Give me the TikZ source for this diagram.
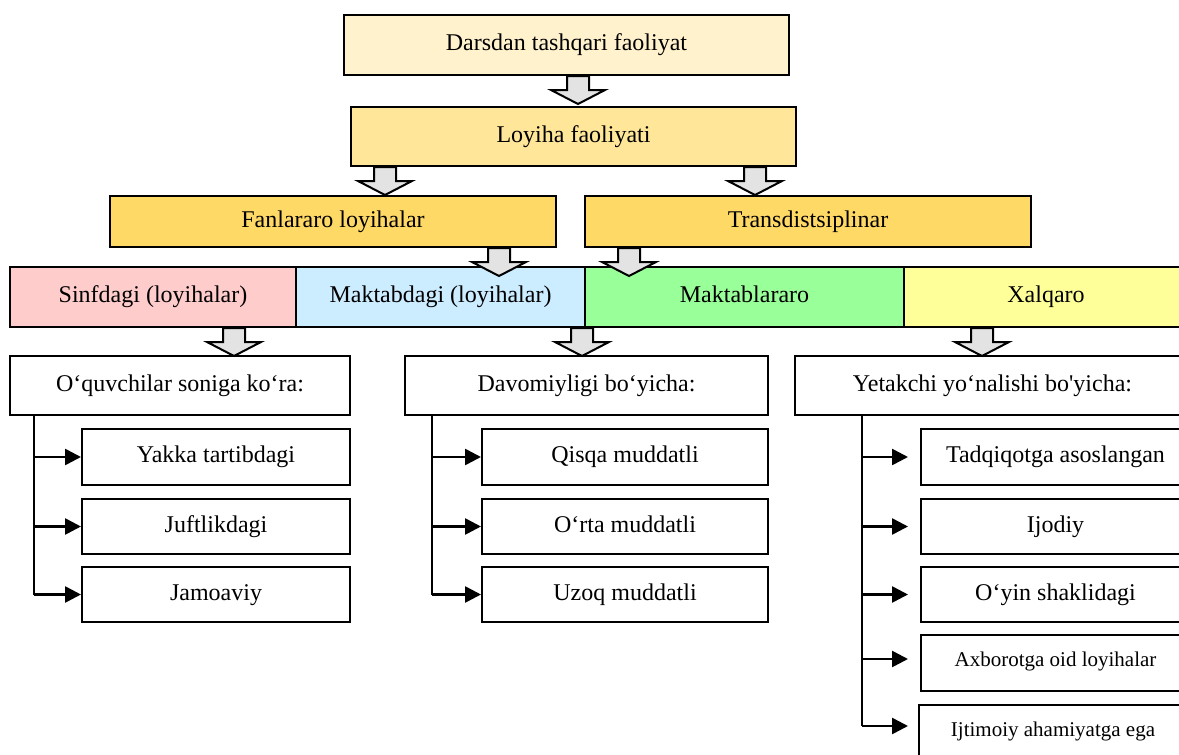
\documentclass[tikz,border=0pt]{standalone}
\usepackage{fontspec}
\setmainfont{Liberation Serif}[Ligatures=TeXOff]
\usetikzlibrary{arrows.meta}

\definecolor{cream}{HTML}{FFF2CC}
\definecolor{lightgold}{HTML}{FFE699}
\definecolor{gold}{HTML}{FFD966}
\definecolor{rowpink}{HTML}{FFCCCC}
\definecolor{rowblue}{HTML}{CCECFF}
\definecolor{rowgreen}{HTML}{99FF99}
\definecolor{rowyellow}{HTML}{FFFF99}
\definecolor{arrgray}{HTML}{E3E3E3}

% block arrow under a box: x position, source node
\newcommand{\blkarrow}[2]{\draw[blockarr] (#1,0 |- #2.south) -- ++(-11,0) -- ++(0,14) -- ++(-16,0)
    -- ++(27,14) -- ++(27,-14) -- ++(-16,0) -- ++(0,-14) -- cycle;}

\begin{document}
\begin{tikzpicture}[x=1pt, y=-1pt,
    box/.style={draw, line width=2pt, inner sep=0pt, font=\fontsize{24}{28}\selectfont,
        text height=16pt, text depth=5pt},
    smallbox/.style={box, font=\fontsize{21}{25}\selectfont, text height=14pt, text depth=8pt},
    blockarr/.style={draw, line width=2pt, fill=arrgray, line join=miter},
    trunk/.style={line width=2.6pt},
    branch/.style={line width=2.6pt, -{Triangle[length=16pt,width=16pt]}}]
    \useasboundingbox (0,0) rectangle (1179,755);
    \fill[white] (0,0) rectangle (1179,755);
    \clip (0,0) rectangle (1179,755);
    % upper levels
    \node[box, fill=cream, minimum width=445pt, minimum height=60pt] (dars) at (566.5,45) {Darsdan tashqari faoliyat};
    \node[box, fill=lightgold, minimum width=445pt, minimum height=59pt] (loy) at (573.5,136.5) {Loyiha faoliyati};
    \node[box, fill=gold, minimum width=446pt, minimum height=51pt] (fan) at (333,221.5) {Fanlararo loyihalar};
    \node[box, fill=gold, minimum width=446pt, minimum height=51pt] (trans) at (808,221.5) {Transdistsiplinar};
    % row of project types
    \node[box, fill=rowpink, minimum width=286pt, minimum height=60pt] (sinf) at (153,297) {Sinfdagi (loyihalar)};
    \node[box, fill=rowblue, minimum width=289pt, minimum height=60pt] (mktb) at (440.5,297) {Maktabdagi (loyihalar)};
    \node[box, fill=rowgreen, minimum width=319pt, minimum height=60pt] (mktl) at (744.5,297) {Maktablararo};
    \node[box, fill=rowyellow, minimum width=284pt, minimum height=60pt] (xalq) at (1046,297) {Xalqaro};
    % criteria
    \node[box, minimum width=340pt, minimum height=59pt] (oquv) at (180,385.5) {O‘quvchilar soniga ko‘ra:};
    \node[box, minimum width=363pt, minimum height=59pt] (davom) at (586.5,385.5) {Davomiyligi bo‘yicha:};
    \node[box, minimum width=395pt, minimum height=59pt] (yetak) at (992.5,385.5) {Yetakchi yo‘nalishi bo'yicha:};
    % left column
    \node[box, minimum width=268pt, minimum height=56pt] (yakka) at (216,457) {Yakka tartibdagi};
    \node[box, minimum width=268pt, minimum height=55pt] (juft) at (216,526.5) {Juftlikdagi};
    \node[box, minimum width=268pt, minimum height=55pt] (jamo) at (216,594.5) {Jamoaviy};
    % middle column
    \node[box, minimum width=286pt, minimum height=56pt] (qisqa) at (625,457) {Qisqa muddatli};
    \node[box, minimum width=286pt, minimum height=55pt] (orta) at (625,526.5) {O‘rta muddatli};
    \node[box, minimum width=286pt, minimum height=55pt] (uzoq) at (625,594.5) {Uzoq muddatli};
    % right column
    \node[box, minimum width=269pt, minimum height=56pt] (tadq) at (1055.5,457) {Tadqiqotga asoslangan};
    \node[box, minimum width=269pt, minimum height=55pt] (ijod) at (1055.5,526.5) {Ijodiy};
    \node[box, minimum width=269pt, minimum height=55pt] (oyin) at (1055.5,594.5) {O‘yin shaklidagi};
    \node[smallbox, minimum width=269pt, minimum height=56pt] (axb) at (1055.5,663) {Axborotga oid loyihalar};
    \node[smallbox, minimum width=268pt, minimum height=56pt] (ijt) at (1053,733) {Ijtimoiy ahamiyatga ega};
    % block arrows
    \blkarrow{578}{dars}
    \blkarrow{385}{loy}
    \blkarrow{755}{loy}
    \blkarrow{499}{fan}
    \blkarrow{629}{trans}
    \blkarrow{234}{sinf}
    \blkarrow{582}{mktb}
    \blkarrow{982}{xalq}
    % branches
    \draw[trunk] (34,0 |- oquv.south) -- (34,0 |- jamo.west);
    \foreach \n in {yakka,juft,jamo}
        \draw[branch] (34,0 |- \n.west) -- (\n.west);
    \draw[trunk] (432,0 |- davom.south) -- (432,0 |- uzoq.west);
    \foreach \n in {qisqa,orta,uzoq}
        \draw[branch] (432,0 |- \n.west) -- (\n.west);
    \draw[trunk] (862,0 |- yetak.south) -- (862,726);
    \foreach \n in {tadq,ijod,oyin}
        \draw[branch, shorten >=12pt] (862,0 |- \n.west) -- (\n.west);
    \draw[branch, shorten >=12pt] (862,659) -- (axb.west |- 0,659);
    \draw[branch, shorten >=10pt] (862,726) -- (ijt.west |- 0,726);
\end{tikzpicture}
\end{document}
